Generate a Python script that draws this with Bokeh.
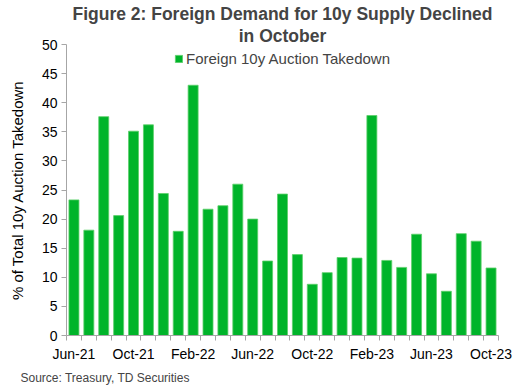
from bokeh.plotting import figure
from bokeh.models import (ColumnDataSource, FixedTicker, Range1d, Title, Legend, LegendItem)
from bokeh.embed import file_html
from bokeh.resources import INLINE

months = ["Jun-21", "Jul-21", "Aug-21", "Sep-21", "Oct-21", "Nov-21", "Dec-21",
          "Jan-22", "Feb-22", "Mar-22", "Apr-22", "May-22", "Jun-22", "Jul-22",
          "Aug-22", "Sep-22", "Oct-22", "Nov-22", "Dec-22", "Jan-23", "Feb-23",
          "Mar-23", "Apr-23", "May-23", "Jun-23", "Jul-23", "Aug-23", "Sep-23", "Oct-23"]
takedown = [23.3, 18.1, 37.6, 20.6, 35.1, 36.2, 24.4, 17.9, 43.0, 21.7, 22.3, 26.0,
            20.0, 12.8, 24.3, 13.9, 8.8, 10.8, 13.4, 13.3, 37.8, 12.9, 11.7, 17.4,
            10.6, 7.6, 17.5, 16.2, 11.6]
tick_labels = ["Jun-21", "Oct-21", "Feb-22", "Jun-22", "Oct-22", "Feb-23", "Jun-23", "Oct-23"]

FONT = "Liberation Sans"
idx = list(range(len(months)))
src = ColumnDataSource(dict(x=idx, top=takedown, month=months))

p = figure(frame_width=432, frame_height=291, output_backend="svg", toolbar_location=None,
           x_range=Range1d(-0.5, len(months) - 0.5), y_range=Range1d(0, 50),
           min_border_left=66, min_border_right=16, min_border_top=0, min_border_bottom=0)
p.outline_line_color = None
p.xgrid.visible = False
p.ygrid.visible = False

r = p.vbar(x="x", top="top", width=0.67, source=src, fill_color="#00B42A",
           line_color="#5ccf6a", line_width=0.8)

# x axis
major = [months.index(t) for t in tick_labels]
p.xaxis.ticker = FixedTicker(ticks=major, minor_ticks=[i - 0.5 for i in range(len(months) + 1)])
p.xaxis.major_label_overrides = {m: months[m] for m in major}
p.xaxis.major_tick_out = 0
p.xaxis.major_tick_in = 0
p.xaxis.minor_tick_out = 5
p.xaxis.minor_tick_in = 0
p.xaxis.minor_tick_line_color = "#a6a6a6"
p.xaxis.axis_line_color = "#a6a6a6"
p.xaxis.major_label_text_font = FONT
p.xaxis.major_label_text_font_size = "14px"
p.xaxis.major_label_text_color = "#000000"
p.xaxis.major_label_standoff = 5

# y axis
p.yaxis.ticker = FixedTicker(ticks=list(range(0, 51, 5)))
p.yaxis.minor_tick_line_color = None
p.yaxis.major_tick_out = 5
p.yaxis.major_tick_in = 0
p.yaxis.major_tick_line_color = "#a6a6a6"
p.yaxis.axis_line_color = "#a6a6a6"
p.yaxis.major_label_text_font = FONT
p.yaxis.major_label_text_font_size = "14px"
p.yaxis.major_label_text_color = "#000000"
p.yaxis.major_label_standoff = 4
p.yaxis.axis_label = "% of Total 10y Auction Takedown"
p.yaxis.axis_label_text_font = FONT
p.yaxis.axis_label_text_font_size = "15px"
p.yaxis.axis_label_text_font_style = "normal"
p.yaxis.axis_label_text_color = "#000000"
p.yaxis.axis_label_standoff = 13

# legend
legend = Legend(items=[LegendItem(label="Foreign 10y Auction Takedown", renderers=[r])],
                location="top_center", orientation="horizontal",
                border_line_color=None, background_fill_alpha=0,
                label_text_font=FONT, label_text_font_size="15px",
                glyph_width=9, glyph_height=9, padding=2, margin=6, label_standoff=3)
p.add_layout(legend, "center")

# source
p.add_layout(Title(text="Source: Treasury, TD Securities", align="left",
                   text_font=FONT, text_font_size="12px", text_font_style="normal",
                   offset=-46, standoff=8), "below")

# title
p.add_layout(Title(text="in October", align="center", text_font=FONT,
                   text_font_size="17.5px", text_font_style="bold", offset=-7, standoff=-3.5), "above")
p.add_layout(Title(text="Figure 2: Foreign Demand for 10y Supply Declined", align="center",
                   text_font=FONT, text_font_size="17.5px", text_font_style="bold",
                   offset=-7, standoff=2.5), "above")

open("out.html", "w").write(file_html(p, INLINE))
